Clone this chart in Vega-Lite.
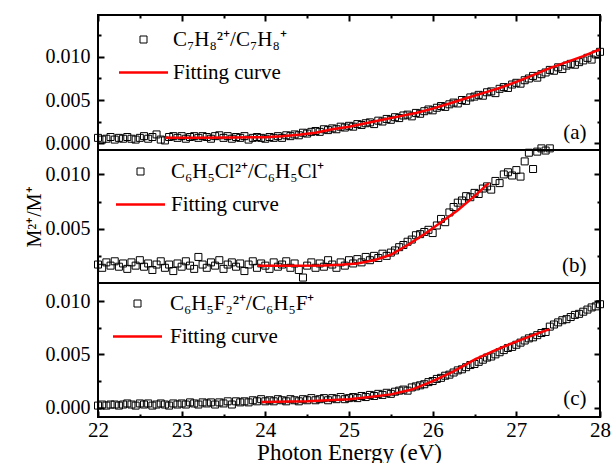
{
  "$schema": "https://vega.github.io/schema/vega-lite/v6.json",
  "padding": {"left": 23, "top": 13, "right": 10, "bottom": 0},
  "spacing": 0,
  "bounds": "flush",
  "config": {
    "font": "Liberation Serif",
    "view": {"stroke": "black", "strokeWidth": 2},
    "axis": {"grid": false, "ticks": true, "tickSize": 6, "tickWidth": 2, "tickColor": "black", "tickOpacity": 1, "domain": false, "labelColor": "black", "titleColor": "black", "labelFont": "Liberation Serif", "titleFont": "Liberation Serif", "titleFontWeight": "normal", "labelFontSize": 20, "labelOverlap": false, "labelFlush": false},
    "legend": {"labelFont": "Liberation Serif", "labelColor": "black", "labelFontSize": 21, "labelLimit": 500, "padding": 0, "title": null,
               "layout": {"top-left": {"direction": "vertical", "margin": 12}}}
  },
  "datasets": {
    "a": [{"e":22.00,"r":0.0006},{"e":22.05,"r":0.0004},{"e":22.10,"r":0.0005},{"e":22.15,"r":0.0007},{"e":22.20,"r":0.0004},{"e":22.25,"r":0.0006},{"e":22.30,"r":0.0005},{"e":22.35,"r":0.0007},{"e":22.40,"r":0.0005},{"e":22.45,"r":0.0004},{"e":22.50,"r":0.0006},{"e":22.55,"r":0.0008},{"e":22.60,"r":0.0005},{"e":22.65,"r":0.0007},{"e":22.70,"r":0.0010},{"e":22.75,"r":0.0004},{"e":22.80,"r":0.0003},{"e":22.85,"r":0.0007},{"e":22.90,"r":0.0008},{"e":22.95,"r":0.0006},{"e":23.00,"r":0.0008},{"e":23.05,"r":0.0005},{"e":23.10,"r":0.0007},{"e":23.15,"r":0.0008},{"e":23.20,"r":0.0006},{"e":23.25,"r":0.0008},{"e":23.30,"r":0.0007},{"e":23.35,"r":0.0005},{"e":23.40,"r":0.0008},{"e":23.45,"r":0.0009},{"e":23.50,"r":0.0006},{"e":23.55,"r":0.0008},{"e":23.60,"r":0.0005},{"e":23.65,"r":0.0007},{"e":23.70,"r":0.0006},{"e":23.75,"r":0.0008},{"e":23.80,"r":0.0004},{"e":23.85,"r":0.0006},{"e":23.90,"r":0.0007},{"e":23.95,"r":0.0006},{"e":24.00,"r":0.0005},{"e":24.05,"r":0.0007},{"e":24.10,"r":0.0006},{"e":24.15,"r":0.0008},{"e":24.20,"r":0.0006},{"e":24.25,"r":0.0009},{"e":24.30,"r":0.0008},{"e":24.35,"r":0.0010},{"e":24.40,"r":0.0009},{"e":24.45,"r":0.0012},{"e":24.50,"r":0.0011},{"e":24.55,"r":0.0013},{"e":24.60,"r":0.0014},{"e":24.65,"r":0.0013},{"e":24.70,"r":0.0016},{"e":24.75,"r":0.0015},{"e":24.80,"r":0.0017},{"e":24.85,"r":0.0016},{"e":24.90,"r":0.0019},{"e":24.95,"r":0.0018},{"e":25.00,"r":0.0020},{"e":25.05,"r":0.0019},{"e":25.10,"r":0.0022},{"e":25.15,"r":0.0021},{"e":25.20,"r":0.0023},{"e":25.25,"r":0.0024},{"e":25.30,"r":0.0022},{"e":25.35,"r":0.0026},{"e":25.40,"r":0.0025},{"e":25.45,"r":0.0028},{"e":25.50,"r":0.0027},{"e":25.55,"r":0.0030},{"e":25.60,"r":0.0029},{"e":25.65,"r":0.0032},{"e":25.70,"r":0.0033},{"e":25.75,"r":0.0031},{"e":25.80,"r":0.0035},{"e":25.85,"r":0.0034},{"e":25.90,"r":0.0037},{"e":25.95,"r":0.0039},{"e":26.00,"r":0.0038},{"e":26.05,"r":0.0041},{"e":26.10,"r":0.0043},{"e":26.15,"r":0.0042},{"e":26.20,"r":0.0045},{"e":26.25,"r":0.0047},{"e":26.30,"r":0.0046},{"e":26.35,"r":0.0050},{"e":26.40,"r":0.0049},{"e":26.45,"r":0.0053},{"e":26.50,"r":0.0054},{"e":26.55,"r":0.0056},{"e":26.60,"r":0.0055},{"e":26.65,"r":0.0059},{"e":26.70,"r":0.0060},{"e":26.75,"r":0.0058},{"e":26.80,"r":0.0063},{"e":26.85,"r":0.0065},{"e":26.90,"r":0.0064},{"e":26.95,"r":0.0068},{"e":27.00,"r":0.0070},{"e":27.05,"r":0.0069},{"e":27.10,"r":0.0073},{"e":27.15,"r":0.0075},{"e":27.20,"r":0.0078},{"e":27.25,"r":0.0076},{"e":27.30,"r":0.0080},{"e":27.35,"r":0.0082},{"e":27.40,"r":0.0085},{"e":27.45,"r":0.0084},{"e":27.50,"r":0.0088},{"e":27.55,"r":0.0086},{"e":27.60,"r":0.0090},{"e":27.65,"r":0.0092},{"e":27.70,"r":0.0091},{"e":27.75,"r":0.0094},{"e":27.80,"r":0.0096},{"e":27.85,"r":0.0099},{"e":27.90,"r":0.0097},{"e":27.95,"r":0.0103},{"e":28.00,"r":0.0106}],
    "af": [{"e":22.8,"r":0.00062},{"e":23.2,"r":0.00062},{"e":23.6,"r":0.00063},{"e":24.0,"r":0.00068},{"e":24.2,"r":0.00078},{"e":24.4,"r":0.00095},{"e":24.6,"r":0.0012},{"e":24.8,"r":0.0016},{"e":25.0,"r":0.0019},{"e":25.2,"r":0.0023},{"e":25.4,"r":0.0027},{"e":25.6,"r":0.0031},{"e":25.8,"r":0.0035},{"e":26.0,"r":0.0040},{"e":26.2,"r":0.0046},{"e":26.4,"r":0.0052},{"e":26.6,"r":0.0058},{"e":26.8,"r":0.0064},{"e":27.0,"r":0.0071},{"e":27.2,"r":0.0079},{"e":27.4,"r":0.0087},{"e":27.6,"r":0.0094},{"e":27.8,"r":0.0101},{"e":28.0,"r":0.0109}],
    "b": [{"e":22.00,"r":0.0017},{"e":22.05,"r":0.0014},{"e":22.10,"r":0.0019},{"e":22.15,"r":0.0016},{"e":22.20,"r":0.0020},{"e":22.25,"r":0.0015},{"e":22.30,"r":0.0018},{"e":22.35,"r":0.0013},{"e":22.40,"r":0.0019},{"e":22.45,"r":0.0016},{"e":22.50,"r":0.0021},{"e":22.55,"r":0.0015},{"e":22.60,"r":0.0018},{"e":22.65,"r":0.0012},{"e":22.70,"r":0.0017},{"e":22.75,"r":0.0020},{"e":22.80,"r":0.0014},{"e":22.85,"r":0.0017},{"e":22.90,"r":0.0011},{"e":22.95,"r":0.0018},{"e":23.00,"r":0.0015},{"e":23.05,"r":0.0020},{"e":23.10,"r":0.0016},{"e":23.15,"r":0.0013},{"e":23.20,"r":0.0024},{"e":23.25,"r":0.0017},{"e":23.30,"r":0.0014},{"e":23.35,"r":0.0019},{"e":23.40,"r":0.0016},{"e":23.45,"r":0.0021},{"e":23.50,"r":0.0013},{"e":23.55,"r":0.0017},{"e":23.60,"r":0.0019},{"e":23.65,"r":0.0015},{"e":23.70,"r":0.0018},{"e":23.75,"r":0.0011},{"e":23.80,"r":0.0017},{"e":23.85,"r":0.0020},{"e":23.90,"r":0.0014},{"e":23.95,"r":0.0018},{"e":24.00,"r":0.0016},{"e":24.05,"r":0.0013},{"e":24.10,"r":0.0019},{"e":24.15,"r":0.0015},{"e":24.20,"r":0.0017},{"e":24.25,"r":0.0020},{"e":24.30,"r":0.0014},{"e":24.35,"r":0.0018},{"e":24.40,"r":0.0012},{"e":24.45,"r":0.0005},{"e":24.50,"r":0.0016},{"e":24.55,"r":0.0019},{"e":24.60,"r":0.0014},{"e":24.65,"r":0.0018},{"e":24.70,"r":0.0015},{"e":24.75,"r":0.0021},{"e":24.80,"r":0.0017},{"e":24.85,"r":0.0014},{"e":24.90,"r":0.0019},{"e":24.95,"r":0.0016},{"e":25.00,"r":0.0021},{"e":25.05,"r":0.0018},{"e":25.10,"r":0.0022},{"e":25.15,"r":0.0019},{"e":25.20,"r":0.0024},{"e":25.25,"r":0.0021},{"e":25.30,"r":0.0025},{"e":25.35,"r":0.0023},{"e":25.40,"r":0.0027},{"e":25.45,"r":0.0025},{"e":25.50,"r":0.0028},{"e":25.55,"r":0.0030},{"e":25.60,"r":0.0033},{"e":25.65,"r":0.0035},{"e":25.70,"r":0.0038},{"e":25.75,"r":0.0040},{"e":25.80,"r":0.0044},{"e":25.85,"r":0.0045},{"e":25.90,"r":0.0047},{"e":25.95,"r":0.0049},{"e":26.00,"r":0.0046},{"e":26.05,"r":0.0053},{"e":26.10,"r":0.0059},{"e":26.15,"r":0.0056},{"e":26.20,"r":0.0065},{"e":26.25,"r":0.0070},{"e":26.30,"r":0.0074},{"e":26.35,"r":0.0076},{"e":26.40,"r":0.0080},{"e":26.45,"r":0.0079},{"e":26.50,"r":0.0083},{"e":26.55,"r":0.0082},{"e":26.60,"r":0.0087},{"e":26.65,"r":0.0089},{"e":26.70,"r":0.0086},{"e":26.75,"r":0.0094},{"e":26.80,"r":0.0092},{"e":26.85,"r":0.0100},{"e":26.90,"r":0.0102},{"e":26.95,"r":0.0099},{"e":27.00,"r":0.0104},{"e":27.05,"r":0.0098},{"e":27.10,"r":0.0112},{"e":27.15,"r":0.0120},{"e":27.20,"r":0.0105},{"e":27.25,"r":0.0121},{"e":27.30,"r":0.0124},{"e":27.35,"r":0.0122},{"e":27.40,"r":0.0124}],
    "bf": [{"e":23.9,"r":0.0016},{"e":24.3,"r":0.0016},{"e":24.7,"r":0.00162},{"e":24.9,"r":0.00168},{"e":25.1,"r":0.0018},{"e":25.3,"r":0.0021},{"e":25.5,"r":0.0026},{"e":25.7,"r":0.0035},{"e":25.9,"r":0.0045},{"e":26.1,"r":0.0056},{"e":26.3,"r":0.0067},{"e":26.5,"r":0.0080},{"e":26.67,"r":0.0092}],
    "c": [{"e":22.00,"r":0.0002},{"e":22.05,"r":0.0003},{"e":22.10,"r":0.0002},{"e":22.15,"r":0.0003},{"e":22.20,"r":0.0003},{"e":22.25,"r":0.0002},{"e":22.30,"r":0.0003},{"e":22.35,"r":0.0004},{"e":22.40,"r":0.0003},{"e":22.45,"r":0.0002},{"e":22.50,"r":0.0004},{"e":22.55,"r":0.0003},{"e":22.60,"r":0.0004},{"e":22.65,"r":0.0002},{"e":22.70,"r":0.0003},{"e":22.75,"r":0.0004},{"e":22.80,"r":0.0003},{"e":22.85,"r":0.0002},{"e":22.90,"r":0.0004},{"e":22.95,"r":0.0003},{"e":23.00,"r":0.0004},{"e":23.05,"r":0.0003},{"e":23.10,"r":0.0005},{"e":23.15,"r":0.0004},{"e":23.20,"r":0.0003},{"e":23.25,"r":0.0005},{"e":23.30,"r":0.0004},{"e":23.35,"r":0.0005},{"e":23.40,"r":0.0003},{"e":23.45,"r":0.0005},{"e":23.50,"r":0.0004},{"e":23.55,"r":0.0006},{"e":23.60,"r":0.0003},{"e":23.65,"r":0.0006},{"e":23.70,"r":0.0005},{"e":23.75,"r":0.0006},{"e":23.80,"r":0.0005},{"e":23.85,"r":0.0007},{"e":23.90,"r":0.0006},{"e":23.95,"r":0.0008},{"e":24.00,"r":0.0006},{"e":24.05,"r":0.0007},{"e":24.10,"r":0.0006},{"e":24.15,"r":0.0008},{"e":24.20,"r":0.0007},{"e":24.25,"r":0.0006},{"e":24.30,"r":0.0008},{"e":24.35,"r":0.0007},{"e":24.40,"r":0.0006},{"e":24.45,"r":0.0008},{"e":24.50,"r":0.0007},{"e":24.55,"r":0.0009},{"e":24.60,"r":0.0007},{"e":24.65,"r":0.0008},{"e":24.70,"r":0.0009},{"e":24.75,"r":0.0007},{"e":24.80,"r":0.0009},{"e":24.85,"r":0.0008},{"e":24.90,"r":0.0010},{"e":24.95,"r":0.0008},{"e":25.00,"r":0.0009},{"e":25.05,"r":0.0010},{"e":25.10,"r":0.0009},{"e":25.15,"r":0.0011},{"e":25.20,"r":0.0010},{"e":25.25,"r":0.0012},{"e":25.30,"r":0.0011},{"e":25.35,"r":0.0013},{"e":25.40,"r":0.0012},{"e":25.45,"r":0.0014},{"e":25.50,"r":0.0013},{"e":25.55,"r":0.0015},{"e":25.60,"r":0.0016},{"e":25.65,"r":0.0017},{"e":25.70,"r":0.0016},{"e":25.75,"r":0.0019},{"e":25.80,"r":0.0020},{"e":25.85,"r":0.0021},{"e":25.90,"r":0.0022},{"e":25.95,"r":0.0024},{"e":26.00,"r":0.0025},{"e":26.05,"r":0.0027},{"e":26.10,"r":0.0028},{"e":26.15,"r":0.0030},{"e":26.20,"r":0.0031},{"e":26.25,"r":0.0033},{"e":26.30,"r":0.0035},{"e":26.35,"r":0.0036},{"e":26.40,"r":0.0038},{"e":26.45,"r":0.0040},{"e":26.50,"r":0.0041},{"e":26.55,"r":0.0043},{"e":26.60,"r":0.0045},{"e":26.65,"r":0.0047},{"e":26.70,"r":0.0048},{"e":26.75,"r":0.0050},{"e":26.80,"r":0.0052},{"e":26.85,"r":0.0054},{"e":26.90,"r":0.0056},{"e":26.95,"r":0.0057},{"e":27.00,"r":0.0059},{"e":27.05,"r":0.0061},{"e":27.10,"r":0.0063},{"e":27.15,"r":0.0065},{"e":27.20,"r":0.0066},{"e":27.25,"r":0.0068},{"e":27.30,"r":0.0070},{"e":27.35,"r":0.0071},{"e":27.40,"r":0.0076},{"e":27.45,"r":0.0078},{"e":27.50,"r":0.0080},{"e":27.55,"r":0.0082},{"e":27.60,"r":0.0083},{"e":27.65,"r":0.0085},{"e":27.70,"r":0.0087},{"e":27.75,"r":0.0088},{"e":27.80,"r":0.0090},{"e":27.85,"r":0.0092},{"e":27.90,"r":0.0094},{"e":27.95,"r":0.0095},{"e":28.00,"r":0.0097}],
    "cf": [{"e":23.95,"r":0.00053},{"e":24.5,"r":0.0006},{"e":25.0,"r":0.0008},{"e":25.25,"r":0.0010},{"e":25.5,"r":0.00125},{"e":25.75,"r":0.0017},{"e":26.0,"r":0.0025},{"e":26.25,"r":0.0034},{"e":26.5,"r":0.0045},{"e":26.75,"r":0.0054},{"e":27.0,"r":0.0062},{"e":27.2,"r":0.0068},{"e":27.39,"r":0.00735}]
  },
  "vconcat": [
    {
      "width": 502, "height": 135,
      "layer": [
        {
          "data": {"name": "a"},
          "mark": {"type": "point", "shape": "square", "filled": false, "size": 49, "strokeWidth": 1, "opacity": 1},
          "encoding": {
            "x": {"field": "e", "type": "quantitative", "scale": {"domain": [22, 28], "nice": false, "zero": false},
                  "axis": {"orient": "top", "offset": -6, "values": [22,22.5,23,23.5,24,24.5,25,25.5,26,26.5,27,27.5,28], "labels": false, "title": null,
                           "tickDash": {"condition": {"test": "datum.value % 1 !== 0", "value": [0, 3, 3, 100]}, "value": []}}},
            "y": {"field": "r", "type": "quantitative", "scale": {"domain": [-0.00081, 0.01488], "nice": false, "zero": false},
                  "axis": {"orient": "left", "offset": -6, "values": [0,0.0025,0.005,0.0075,0.01,0.0125], "title": null, "labelPadding": 8,
                           "labelExpr": "abs(datum.value*200 - round(datum.value*200)) < 0.01 ? format(datum.value, '.3f') : ''",
                           "tickDash": {"condition": {"test": "abs(datum.value*200 - round(datum.value*200)) > 0.01", "value": [0, 3, 3, 100]}, "value": []}}},
            "color": {"datum": "C₇H₈²⁺/C₇H₈⁺", "type": "nominal", "scale": {"range": ["black"]},
                      "legend": {"orient": "top-left", "offset": 14, "symbolSize": 49, "symbolStrokeWidth": 1, "symbolOffset": 21, "labelOffset": 19}}
          }
        },
        {
          "data": {"name": "af"},
          "mark": {"type": "line", "strokeWidth": 2.5},
          "encoding": {
            "x": {"field": "e", "type": "quantitative", "scale": {"domain": [22, 28], "nice": false, "zero": false}, "axis": null},
            "y": {"field": "r", "type": "quantitative", "scale": {"domain": [-0.00081, 0.01488], "nice": false, "zero": false},
                  "axis": {"orient": "right", "offset": -6, "values": [0,0.0025,0.005,0.0075,0.01,0.0125], "labels": false, "title": null,
                           "tickDash": {"condition": {"test": "abs(datum.value*200 - round(datum.value*200)) > 0.01", "value": [0, 3, 3, 100]}, "value": []}}},
            "stroke": {"datum": "Fitting curve", "type": "nominal", "scale": {"range": ["#ff0000"]},
                       "legend": {"orient": "top-left", "offset": 14, "symbolType": "M-7,0H7", "symbolSize": 49, "symbolStrokeWidth": 2.5, "symbolOffset": 21, "labelOffset": 19}}
          }
        },
        {
          "data": {"values": [{"t": "(a)"}]},
          "mark": {"type": "text", "align": "right", "baseline": "middle", "fontSize": 21, "font": "Liberation Serif", "color": "black"},
          "encoding": {
            "text": {"field": "t"},
            "x": {"datum": 27.84, "type": "quantitative", "scale": {"domain": [22, 28], "nice": false, "zero": false}, "axis": null},
            "y": {"datum": 0.0012, "type": "quantitative", "scale": {"domain": [-0.00081, 0.01488], "nice": false, "zero": false}, "axis": null}
          }
        }
      ],
      "resolve": {"axis": {"x": "independent", "y": "independent"}}
    },
    {
      "width": 502, "height": 133,
      "layer": [
        {
          "data": {"name": "b"},
          "mark": {"type": "point", "shape": "square", "filled": false, "size": 49, "strokeWidth": 1, "opacity": 1},
          "encoding": {
            "x": {"field": "e", "type": "quantitative", "scale": {"domain": [22, 28], "nice": false, "zero": false}, "axis": null},
            "y": {"field": "r", "type": "quantitative", "scale": {"domain": [0, 0.01225], "nice": false, "zero": false},
                  "axis": {"orient": "left", "offset": -6, "values": [0.0025,0.005,0.0075,0.01], "title": "M²⁺/M⁺", "titleFontSize": 20, "titlePadding": 1, "labelPadding": 8,
                           "labelExpr": "abs(datum.value*200 - round(datum.value*200)) < 0.01 ? format(datum.value, '.3f') : ''",
                           "tickDash": {"condition": {"test": "abs(datum.value*200 - round(datum.value*200)) > 0.01", "value": [0, 3, 3, 100]}, "value": []}}},
            "color": {"datum": "C₆H₅Cl²⁺/C₆H₅Cl⁺", "type": "nominal", "scale": {"range": ["black"]},
                      "legend": {"orient": "top-left", "offset": 11, "symbolSize": 49, "symbolStrokeWidth": 1, "symbolOffset": 21, "labelOffset": 20}}
          }
        },
        {
          "data": {"name": "bf"},
          "mark": {"type": "line", "strokeWidth": 2.5},
          "encoding": {
            "x": {"field": "e", "type": "quantitative", "scale": {"domain": [22, 28], "nice": false, "zero": false}, "axis": null},
            "y": {"field": "r", "type": "quantitative", "scale": {"domain": [0, 0.01225], "nice": false, "zero": false},
                  "axis": {"orient": "right", "offset": -6, "values": [0.0025,0.005,0.0075,0.01], "labels": false, "title": null,
                           "tickDash": {"condition": {"test": "abs(datum.value*200 - round(datum.value*200)) > 0.01", "value": [0, 3, 3, 100]}, "value": []}}},
            "stroke": {"datum": "Fitting curve", "type": "nominal", "scale": {"range": ["#ff0000"]},
                       "legend": {"orient": "top-left", "offset": 11, "symbolType": "M-7,0H7", "symbolSize": 49, "symbolStrokeWidth": 2.5, "symbolOffset": 21, "labelOffset": 20}}
          }
        },
        {
          "data": {"values": [{"t": "(b)"}]},
          "mark": {"type": "text", "align": "right", "baseline": "middle", "fontSize": 21, "font": "Liberation Serif", "color": "black"},
          "encoding": {
            "text": {"field": "t"},
            "x": {"datum": 27.84, "type": "quantitative", "scale": {"domain": [22, 28], "nice": false, "zero": false}, "axis": null},
            "y": {"datum": 0.0016, "type": "quantitative", "scale": {"domain": [0, 0.01225], "nice": false, "zero": false}, "axis": null}
          }
        }
      ],
      "resolve": {"axis": {"x": "independent", "y": "independent"}}
    },
    {
      "width": 502, "height": 134,
      "layer": [
        {
          "data": {"name": "c"},
          "mark": {"type": "point", "shape": "square", "filled": false, "size": 49, "strokeWidth": 1, "opacity": 1},
          "encoding": {
            "x": {"field": "e", "type": "quantitative", "scale": {"domain": [22, 28], "nice": false, "zero": false},
                  "axis": {"orient": "bottom", "offset": -6, "values": [22,22.5,23,23.5,24,24.5,25,25.5,26,26.5,27,27.5,28], "labelFontSize": 21, "labelPadding": 2,
                           "labelExpr": "datum.value % 1 === 0 ? format(datum.value, 'd') : ''",
                           "title": "Photon Energy (eV)", "titleFontSize": 23, "titlePadding": 1,
                           "tickDash": {"condition": {"test": "datum.value % 1 !== 0", "value": [0, 3, 3, 100]}, "value": []}}},
            "y": {"field": "r", "type": "quantitative", "scale": {"domain": [-0.00087, 0.01169], "nice": false, "zero": false},
                  "axis": {"orient": "left", "offset": -6, "values": [0,0.0025,0.005,0.0075,0.01], "title": null, "labelPadding": 8,
                           "labelExpr": "abs(datum.value*200 - round(datum.value*200)) < 0.01 ? format(datum.value, '.3f') : ''",
                           "tickDash": {"condition": {"test": "abs(datum.value*200 - round(datum.value*200)) > 0.01", "value": [0, 3, 3, 100]}, "value": []}}},
            "color": {"datum": "C₆H₅F₂²⁺/C₆H₅F⁺", "type": "nominal", "scale": {"range": ["black"]},
                      "legend": {"orient": "top-left", "offset": 10, "symbolSize": 49, "symbolStrokeWidth": 1, "symbolOffset": 19, "labelOffset": 22}}
          }
        },
        {
          "data": {"name": "cf"},
          "mark": {"type": "line", "strokeWidth": 2.5},
          "encoding": {
            "x": {"field": "e", "type": "quantitative", "scale": {"domain": [22, 28], "nice": false, "zero": false}, "axis": null},
            "y": {"field": "r", "type": "quantitative", "scale": {"domain": [-0.00087, 0.01169], "nice": false, "zero": false},
                  "axis": {"orient": "right", "offset": -6, "values": [0,0.0025,0.005,0.0075,0.01], "labels": false, "title": null,
                           "tickDash": {"condition": {"test": "abs(datum.value*200 - round(datum.value*200)) > 0.01", "value": [0, 3, 3, 100]}, "value": []}}},
            "stroke": {"datum": "Fitting curve", "type": "nominal", "scale": {"range": ["#ff0000"]},
                       "legend": {"orient": "top-left", "offset": 10, "symbolType": "M-7,0H7", "symbolSize": 49, "symbolStrokeWidth": 2.5, "symbolOffset": 19, "labelOffset": 22}}
          }
        },
        {
          "data": {"values": [{"t": "(c)"}]},
          "mark": {"type": "text", "align": "right", "baseline": "middle", "fontSize": 21, "font": "Liberation Serif", "color": "black"},
          "encoding": {
            "text": {"field": "t"},
            "x": {"datum": 27.84, "type": "quantitative", "scale": {"domain": [22, 28], "nice": false, "zero": false}, "axis": null},
            "y": {"datum": 0.0008, "type": "quantitative", "scale": {"domain": [-0.00087, 0.01169], "nice": false, "zero": false}, "axis": null}
          }
        }
      ],
      "resolve": {"axis": {"x": "independent", "y": "independent"}}
    }
  ],
  "resolve": {"scale": {"color": "independent", "stroke": "independent"}, "legend": {"color": "independent", "stroke": "independent"}}
}
